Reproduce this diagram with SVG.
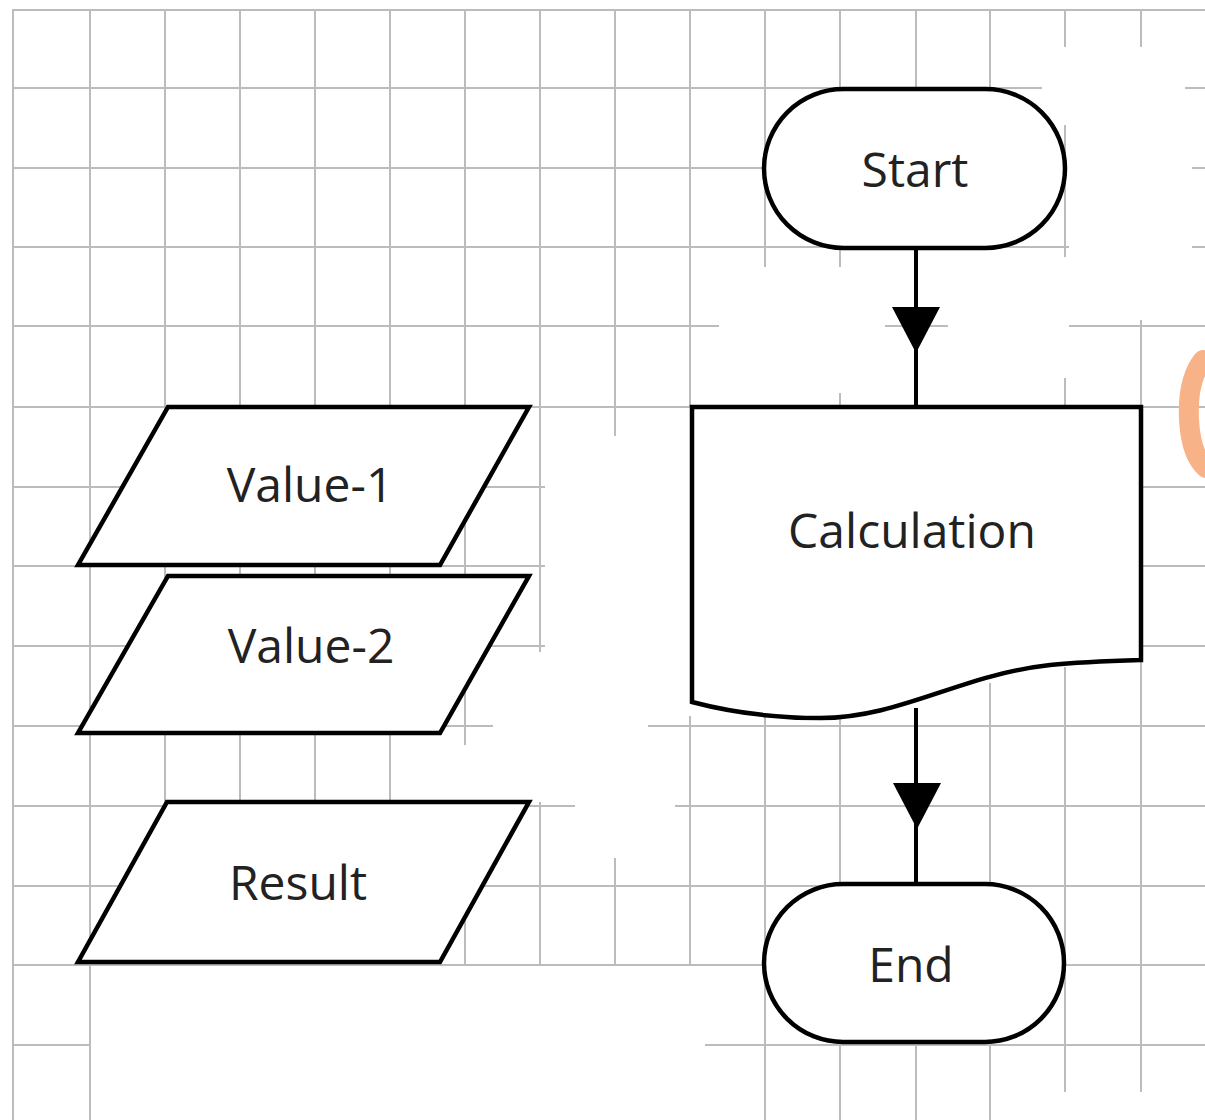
<svg xmlns="http://www.w3.org/2000/svg" width="1205" height="1120" viewBox="0 0 1205 1120">
<defs>
<style>
.grid line{stroke:#bcbcbc;stroke-width:2}
.border{stroke:#9a9a9a;stroke-width:2.5}
.shape{fill:#ffffff;stroke:#000000;stroke-width:4.5;stroke-linejoin:miter}
.lbl{font-family:"Open Sans","Noto Sans","DejaVu Sans",sans-serif;font-size:48px;fill:#222222;text-anchor:middle}
.conn{stroke:#000000;stroke-width:4;fill:none}
.head{fill:#000000}
</style>
</defs>
<rect x="0" y="0" width="1205" height="1120" fill="#ffffff"/>
<g id="grid" class="grid">
<line x1="13" y1="10" x2="13" y2="1120"/>
<line x1="90" y1="10" x2="90" y2="1120"/>
<line x1="165" y1="10" x2="165" y2="965"/>
<line x1="240" y1="10" x2="240" y2="965"/>
<line x1="315" y1="10" x2="315" y2="965"/>
<line x1="390" y1="10" x2="390" y2="965"/>
<line x1="465" y1="10" x2="465" y2="745"/>
<line x1="465" y1="800" x2="465" y2="965"/>
<line x1="540" y1="10" x2="540" y2="652"/>
<line x1="540" y1="802" x2="540" y2="965"/>
<line x1="615" y1="10" x2="615" y2="436"/>
<line x1="615" y1="858" x2="615" y2="965"/>
<line x1="690" y1="10" x2="690" y2="407"/>
<line x1="690" y1="716" x2="690" y2="966"/>
<line x1="765" y1="10" x2="765" y2="267"/>
<line x1="765" y1="703" x2="765" y2="1120"/>
<line x1="840" y1="10" x2="840" y2="267"/>
<line x1="840" y1="393" x2="840" y2="407"/>
<line x1="840" y1="717" x2="840" y2="1120"/>
<line x1="916" y1="10" x2="916" y2="90"/>
<line x1="916" y1="1043" x2="916" y2="1120"/>
<line x1="990" y1="10" x2="990" y2="88"/>
<line x1="990" y1="683" x2="990" y2="1120"/>
<line x1="1065" y1="10" x2="1065" y2="47"/>
<line x1="1065" y1="125" x2="1065" y2="257"/>
<line x1="1065" y1="378" x2="1065" y2="407"/>
<line x1="1065" y1="667" x2="1065" y2="1092"/>
<line x1="1141" y1="10" x2="1141" y2="47"/>
<line x1="1141" y1="320" x2="1141" y2="1092"/>
<line x1="13" y1="88" x2="1042" y2="88"/>
<line x1="1185" y1="88" x2="1205" y2="88"/>
<line x1="13" y1="168" x2="1067" y2="168"/>
<line x1="1192" y1="168" x2="1205" y2="168"/>
<line x1="13" y1="247" x2="1069" y2="247"/>
<line x1="1192" y1="247" x2="1205" y2="247"/>
<line x1="13" y1="326" x2="719" y2="326"/>
<line x1="885" y1="326" x2="948" y2="326"/>
<line x1="1069" y1="326" x2="1205" y2="326"/>
<line x1="13" y1="407" x2="1205" y2="407"/>
<line x1="13" y1="487" x2="545" y2="487"/>
<line x1="1142" y1="487" x2="1205" y2="487"/>
<line x1="13" y1="566" x2="545" y2="566"/>
<line x1="1142" y1="566" x2="1205" y2="566"/>
<line x1="13" y1="646" x2="545" y2="646"/>
<line x1="1142" y1="646" x2="1205" y2="646"/>
<line x1="13" y1="726" x2="493" y2="726"/>
<line x1="648" y1="726" x2="1205" y2="726"/>
<line x1="13" y1="806" x2="575" y2="806"/>
<line x1="675" y1="806" x2="1205" y2="806"/>
<line x1="13" y1="886" x2="1205" y2="886"/>
<line x1="13" y1="965" x2="1205" y2="965"/>
<line x1="13" y1="1045" x2="90" y2="1045"/>
<line x1="705" y1="1045" x2="1205" y2="1045"/>
<line class="border" x1="12" y1="10" x2="1205" y2="10"/>
</g>
<path d="M1203,360 Q1187,380 1189,420 Q1191,455 1206,468" fill="none" stroke="#f8b288" stroke-width="20" stroke-linecap="round"/>
<g id="connectors">
<line class="conn" x1="916" y1="249" x2="916" y2="407"/>
<polygon class="head" points="892,307 940,307 916,353"/>
<line class="conn" x1="916" y1="708" x2="916" y2="883"/>
<polygon class="head" points="893,783 941,783 917,829"/>
</g>
<g id="start">
<rect class="shape" x="764" y="89" width="301" height="159" rx="79.5" ry="79.5"/>
<text class="lbl" x="915" y="187">Start</text>
</g>
<g id="calculation">
<path class="shape" d="M692,407 H1141 V660 C1110,661 1080,662 1050,665 C960,675 900,718 820,718 C770,718 730,712 692,702 Z"/>
<text class="lbl" x="912" y="548">Calculation</text>
</g>
<g id="end">
<rect class="shape" x="764" y="884" width="300" height="158" rx="79" ry="79"/>
<text class="lbl" x="911" y="982">End</text>
</g>
<g id="value1">
<polygon class="shape" points="168,407 529,407 440,565 78,565"/>
<text class="lbl" x="310" y="502">Value-1</text>
</g>
<g id="value2">
<polygon class="shape" points="168,576 529,576 440,733 78,733"/>
<text class="lbl" x="311" y="663">Value-2</text>
</g>
<g id="result">
<polygon class="shape" points="167,802 529,802 440,962 78,962"/>
<text class="lbl" x="298" y="900">Result</text>
</g>
</svg>
